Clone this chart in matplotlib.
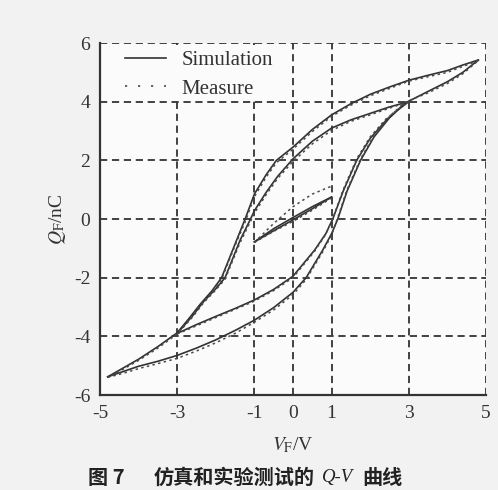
import matplotlib
matplotlib.use("Agg")
import matplotlib.pyplot as plt
from matplotlib.lines import Line2D
from matplotlib.patches import Rectangle

# ---------------- data ----------------
# major loop (+/-5 V), simulation
sim_major_down_v = [4.8, 4.4, 4.0, 3.5, 3.0, 2.5, 2.0, 1.5, 1.0, 0.5, 0.0, -0.43, -0.7, -1.0, -1.24,
                    -1.5, -1.85, -2.1, -2.4, -2.7, -3.0, -3.5, -4.0, -4.4, -4.8]
sim_major_down_q = [5.42, 5.25, 5.06, 4.9, 4.73, 4.5, 4.25, 3.93, 3.55, 3.05, 2.45, 2.0, 1.5, 0.85, 0.0,
                    -0.85, -2.0, -2.45, -2.9, -3.4, -3.88, -4.35, -4.78, -5.08, -5.38]
sim_major_up_v = [-4.8, -4.4, -4.0, -3.5, -3.0, -2.5, -2.0, -1.5, -1.0, -0.5, 0.0, 0.34, 0.77, 1.0,
                  1.16, 1.4, 1.75, 2.1, 2.5, 2.9, 3.5, 4.0, 4.4, 4.8]
sim_major_up_q = [-5.38, -5.2, -5.02, -4.85, -4.65, -4.4, -4.12, -3.8, -3.45, -3.02, -2.5, -2.0, -1.06,
                  -0.5, 0.0, 0.95, 2.0, 2.8, 3.45, 3.95, 4.35, 4.68, 5.0, 5.42]
# major loop, measurement
meas_major_down_q = [5.4, 5.2, 5.0, 4.85, 4.7, 4.45, 4.2, 3.88, 3.5, 2.98, 2.38, 1.92, 1.42, 0.76, -0.1,
                     -0.9, -2.05, -2.5, -2.95, -3.45, -3.92, -4.4, -4.82, -5.12, -5.4]
meas_major_up_q = [-5.4, -5.26, -5.1, -4.93, -4.75, -4.5, -4.22, -3.9, -3.52, -3.1, -2.58, -2.06, -1.12,
                   -0.55, 0.05, 1.0, 2.05, 2.85, 3.5, 3.98, 4.3, 4.62, 4.95, 5.4]

# minor loop (+/-3 V), simulation
sim_minor_down_v = [3.0, 2.5, 2.0, 1.5, 1.0, 0.5, 0.0, -0.4, -0.7, -1.0, -1.1, -1.37, -1.76, -2.0,
                    -2.32, -2.6, -3.0]
sim_minor_down_q = [4.0, 3.82, 3.6, 3.38, 3.1, 2.65, 2.05, 1.45, 0.9, 0.28, 0.0, -0.72, -2.0, -2.38,
                    -2.82, -3.3, -3.9]
sim_minor_up_v = [-3.0, -2.5, -2.0, -1.5, -1.0, -0.5, 0.0, 0.56, 0.85, 1.03, 1.3, 1.65, 2.0, 2.4, 2.7, 3.0]
sim_minor_up_q = [-3.9, -3.6, -3.32, -3.05, -2.76, -2.4, -1.95, -1.06, -0.5, 0.0, 0.95, 2.0, 2.75,
                  3.35, 3.7, 4.0]
# minor loop, measurement
meas_minor_down_q = [4.0, 3.78, 3.55, 3.33, 3.02, 2.56, 1.96, 1.38, 0.82, 0.2, -0.08, -0.8, -2.05,
                     -2.42, -2.86, -3.34, -3.92]
meas_minor_up_q = [-3.92, -3.64, -3.36, -3.08, -2.8, -2.44, -2.0, -1.1, -0.52, 0.02, 1.0, 2.05, 2.8,
                   3.4, 3.72, 4.0]

# small loop (+/-1 V)
small_up_v = [-1.0, -0.5, 0.0, 0.5, 1.0]
small_down_v = [1.0, 0.5, 0.0, -0.5, -1.0]
sim_small_up_q = [-0.78, -0.4, -0.03, 0.35, 0.75]
sim_small_down_q = [0.75, 0.42, 0.05, -0.33, -0.78]
meas_small_up_q = [-0.8, -0.15, 0.42, 0.85, 1.12]
meas_small_down_q = [0.72, 0.3, -0.08, -0.42, -0.8]

x_ticks = [-5, -3, -1, 0, 1, 3, 5]
y_ticks = [-6, -4, -2, 0, 2, 4, 6]
legend_labels = ["Simulation", "Measure"]

# ---------------- style ----------------
plt.rcParams["font.family"] = ["Liberation Serif", "DejaVu Serif"]
plt.rcParams["mathtext.fontset"] = "stix"

W, H = 498, 490
fig = plt.figure(figsize=(W / 100, H / 100), dpi=100, facecolor="#f2f2f2")
ax = fig.add_axes([100 / W, 1 - 395 / H, 386 / W, 352 / H], facecolor="#fbfbfb")

line_col = "#333333"
sim_kw = dict(color=line_col, lw=1.2, ls="-", zorder=3)
meas_kw = dict(color="#4a4a4a", lw=1.1, ls=(0, (1.6, 2.2)), zorder=3)

for v, q in [(sim_major_down_v, sim_major_down_q), (sim_major_up_v, sim_major_up_q),
             (sim_minor_down_v, sim_minor_down_q), (sim_minor_up_v, sim_minor_up_q),
             (small_up_v, sim_small_up_q), (small_down_v, sim_small_down_q)]:
    ax.plot(v, q, **sim_kw)
for v, q in [(sim_major_down_v, meas_major_down_q), (sim_major_up_v, meas_major_up_q),
             (sim_minor_down_v, meas_minor_down_q), (sim_minor_up_v, meas_minor_up_q),
             (small_up_v, meas_small_up_q), (small_down_v, meas_small_down_q)]:
    ax.plot(v, q, **meas_kw)

ax.set_xlim(-5, 5)
ax.set_ylim(-6, 6)
ax.set_xticks(x_ticks)
ax.set_yticks(y_ticks)
ax.set_xticklabels([str(t) for t in x_ticks])
ax.set_yticklabels([str(t) for t in y_ticks])
ax.tick_params(axis="both", direction="in", length=0, labelsize=14, colors="#333333", pad=7)

ax.grid(True, color="#333333", lw=1.3, ls=(0, (4.0, 2.6)), zorder=1)
ax.set_axisbelow(True)
for s in ["top", "right"]:
    ax.spines[s].set_visible(False)
for s in ["left", "bottom"]:
    ax.spines[s].set_color("#333333")
    ax.spines[s].set_linewidth(1.6)

# blank area behind the legend (hides the vertical grid lines there)
ax.add_patch(Rectangle((0.004, 0.842), 0.466, 0.152, transform=ax.transAxes,
                       facecolor="#fbfbfb", edgecolor="none", zorder=1.5))

ax.set_xlabel(r"$V_{\mathrm{F}}$/V", fontsize=14, color="#333333", labelpad=10)
ax.set_ylabel(r"$Q_{\mathrm{F}}$/nC", fontsize=14, color="#333333", labelpad=4)

handles = [Line2D([], [], **sim_kw), Line2D([], [], color="#555555", lw=1.3, ls=(0, (1.2, 6)))]
leg = ax.legend(handles, legend_labels, loc="upper left", bbox_to_anchor=(0.05, 0.993),
                borderaxespad=0.0, borderpad=0.25, frameon=False,
                handlelength=2.0, handletextpad=0.75, labelspacing=0.42, fontsize=15)
for t in leg.get_texts():
    t.set_color("#333333")

# ---------------- caption ----------------
cjk = ["Noto Sans CJK SC", "DejaVu Sans"]
cy = 1 - 477 / H
t1 = fig.text(88 / W, cy, "图 7", family=cjk, fontsize=14.5, fontweight="bold",
              color="#222222", va="center", ha="left")
t2 = ax.annotate("仿真和实验测试的", xy=(1, 0.5), xycoords=t1, xytext=(21, 0),
                 textcoords="offset points", family=cjk, fontsize=14.5, fontweight="bold",
                 color="#222222", va="center", ha="left", annotation_clip=False)
t3 = ax.annotate("Q-V", xy=(1, 0.5), xycoords=t2, xytext=(5, 0),
                 textcoords="offset points", family=["Liberation Serif"], style="italic",
                 fontsize=13.5, color="#222222", va="center", ha="left", annotation_clip=False)
t4 = ax.annotate("曲线", xy=(1, 0.5), xycoords=t3, xytext=(7, 0),
                 textcoords="offset points", family=cjk, fontsize=14.5, fontweight="bold",
                 color="#222222", va="center", ha="left", annotation_clip=False)

fig.savefig("out.png", dpi=100, facecolor=fig.get_facecolor())
